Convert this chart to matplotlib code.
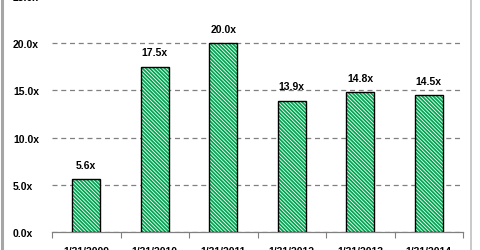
import matplotlib.pyplot as plt
import matplotlib as mpl

plt.rcParams['font.family'] = ['Liberation Sans', 'DejaVu Sans']
mpl.rcParams['hatch.linewidth'] = 1.3

# data
dates = ['1/31/2009', '1/31/2010', '1/31/2011', '1/31/2012', '1/31/2013', '1/31/2014']
multiples = [5.6, 17.5, 20.0, 13.9, 14.8, 14.5]
yticks = [0, 5, 10, 15, 20, 25]

W, H = 480, 251
fig = plt.figure(figsize=(W / 100, H / 100), dpi=100)
ax = fig.add_axes([52 / W, (H - 233) / H, 411 / W, 236 / H])

xs = range(len(dates))
# green hatch fill, then black outline on top
ax.bar(xs, multiples, width=0.41, facecolor='white', edgecolor='#00A651',
       linewidth=0, hatch='\\' * 9, zorder=3)
ax.bar(xs, multiples, width=0.41, facecolor='none', edgecolor='black',
       linewidth=1.0, zorder=4)
for x, v in zip(xs, multiples):
    ax.text(x, v + 1.0, f'{v:.1f}x', ha='center', va='bottom',
            fontsize=7.5, weight='bold', zorder=5)

ax.set_xlim(-0.5, len(dates) - 0.5)
ax.set_ylim(0, 25)
ax.set_yticks(yticks)
ax.set_yticklabels([f'{t:.1f}x' for t in yticks], fontsize=7.5, weight='bold')
ax.set_xticks(list(xs))
ax.set_xticklabels(dates, fontsize=7.5, weight='bold')
ax.set_xticks([i - 0.5 for i in range(len(dates) + 1)], minor=True)
ax.tick_params(axis='x', which='major', length=0, pad=10)
ax.tick_params(axis='x', which='minor', length=4, color='#808080', width=0.8)
ax.tick_params(axis='y', length=0, pad=28)
for lab in ax.get_yticklabels():
    lab.set_horizontalalignment('left')

ax.grid(axis='y', linestyle=(0, (4, 3)), color='#808080', linewidth=0.9, zorder=0)
for s in ['top', 'right', 'left']:
    ax.spines[s].set_visible(False)
ax.spines['bottom'].set_color('#808080')
ax.spines['bottom'].set_linewidth(0.9)

# outer frame bits
fig.add_artist(plt.Line2D([1.5 / W, 1.5 / W], [0, 1], color='#A6A6A6', lw=2.2))
fig.add_artist(plt.Line2D([471 / W, 471 / W], [0, 1], color='#C0C0C0', lw=1.2))

fig.savefig('out.png', dpi=100, facecolor='white')
